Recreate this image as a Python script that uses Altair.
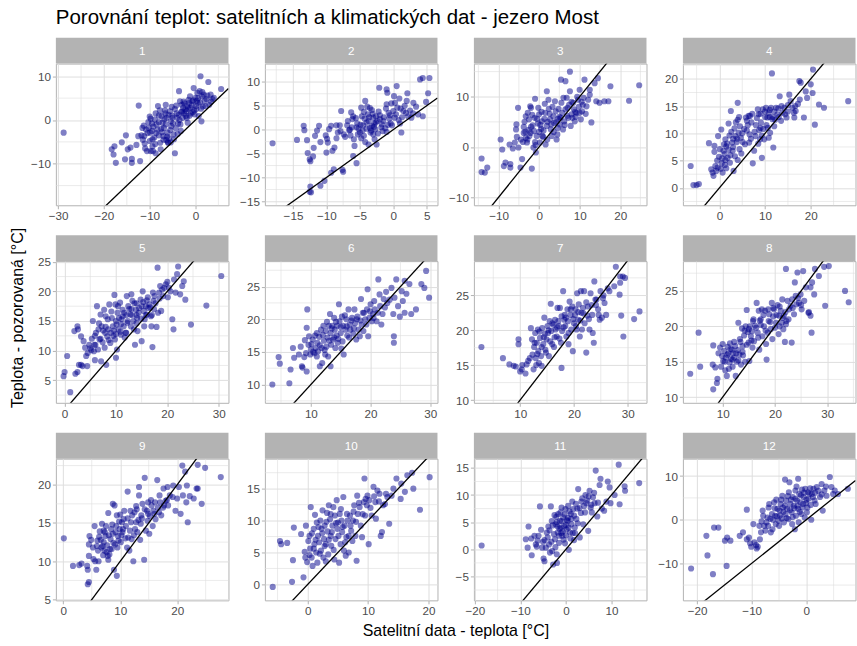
import altair as alt
import pandas as pd

panel_labels = ["1", "2", "3", "4", "5", "6", "7", "8", "9", "10", "11", "12"]

p1 = [(-28.8,-2.9),(-18.3,-6.7),(-17.7,-6.0),(-17.9,-7.9),(-17.4,-9.8),(-16.1,-5.1),(-15.2,-3.5),(-15.4,-9.0),(-14.8,-6.7),(-14.2,-6.3),
      (-13.9,-8.9),(-13.9,-9.8),(-12.9,-5.7),(-12.4,3.3),(-12.1,-9.4),(-12.5,-3.7),(-11.8,-3.5),(-11.6,-1.8),(-11.3,-1.3),(-11.2,-3.7),
      (-11.1,-5.4),(-10.6,-7.1),(-10.3,-0.5),(-10.2,-1.8),(-9.9,-2.9),(-9.8,0.3),(-9.5,-0.8),(-9.4,-4.4),(-9.4,-6.0),(-9.3,-7.1),
      (-8.9,0.1),(-8.7,1.5),(-8.5,-1.0),(-8.3,-2.2),(-8.2,3.2),(-8.0,-3.5),(-7.7,-5.2),(-7.6,-6.7),(-7.4,0.9),(-7.2,-0.6),
      (-7.0,-3.7),(-6.9,-1.8),(-6.7,2.2),(-6.5,3.5),(-6.3,0.5),(-6.1,-2.9),(-6.0,-5.2),(-5.6,2.0),(-5.4,-0.3),(-5.3,-1.4),
      (-5.1,1.0),(-4.8,-3.3),(-4.7,-4.4),(-4.5,-7.6),(-4.1,1.5),(-4.0,0.5),(-3.8,-0.8),(-3.6,6.6),(-3.4,4.3),(-3.2,-2.5),
      (-3.1,1.8),(-2.7,2.8),(-2.5,1.5),(-2.2,2.4),(-1.9,0.5),(-1.8,3.2),(-1.7,-0.6),(-1.4,3.9),(-1.2,5.4),(-1.1,2.8),
      (-0.7,4.3),(-0.6,1.8),(-0.4,7.3),(-0.2,1.3),(0.0,5.1),(0.4,6.2),(0.5,3.9),(0.7,0.9),(0.9,6.6),(1.1,10.0),
      (1.3,-0.3),(1.4,5.4),(1.8,5.8),(2.2,3.2),(2.4,4.8),(2.8,8.7),(3.0,3.5),(3.3,5.8),(3.7,4.8),(4.0,5.1),
      (5.6,7.1),(-6.0,-5.1),(-8.7,-7.6),(-9.8,-7.1),(-5.4,-5.1),(-10.5,-3.0),(-9.0,-4.0),(-7.5,-2.0),(-6.5,-1.0),(-5.0,0.5),
      (-4.5,2.5),(-3.5,0.0),(-2.8,0.5),(-2.0,2.0),(-1.0,1.5),(-0.5,4.5),(0.2,2.5),(-3.0,3.5),(-8.0,1.0),(-9.5,-2.5),
      (-11.0,-6.5),(-7.0,-4.5),(-6.2,-3.8),(-5.8,-4.2),(-2.4,3.8),(-1.5,4.6),(0.3,4.4),(1.0,4.0),(1.6,3.1),
      (-11.5,-4.5),(-10.8,-2.2),(-10.0,-4.8),(-9.2,-1.5),(-8.8,-5.5),(-8.0,-0.5),(-7.8,2.2),(-7.3,-2.8),(-6.8,0.2),(-6.4,-4.6),
      (-5.9,1.2),(-5.5,-2.3),(-5.2,3.0),(-4.9,-0.8),(-4.3,-1.9),(-4.2,3.3),(-3.7,1.2),(-3.3,-1.0),(-2.9,2.0),(-2.6,4.2),
      (-2.1,0.9),(-1.6,2.6),(-1.3,1.0),(-0.8,3.4),(-0.3,2.2),(0.1,3.2),(0.6,5.0),(1.2,2.6),(1.5,6.4),(2.0,4.4),
      (2.6,5.6),(3.4,4.2),(-8.6,-3.0),(-10.0,0.8),(-6.6,1.5),(-3.9,-3.2)]

p2 = [(-18.05,-2.85),(-14.4,-2.15),(-13.4,0.8),(-13.3,-0.1),(-12.9,-2.2),(-12.8,-4.9),(-12.5,-6.2),(-12.4,-6.6),(-12.4,-11.9),(-12.5,-13.0),
      (-12.3,-13.1),(-12.0,-5.6),(-11.9,-3.8),(-11.7,-1.3),(-11.1,0.8),(-10.9,-11.7),(-10.9,-2.6),(-10.1,-1.2),(-9.9,-1.9),(-9.8,-2.7),
      (-10.0,-4.8),(-10.3,-10.7),(-9.3,0.8),(-9.1,-4.4),(-8.8,-3.75),(-9.3,-9.0),(-8.9,-8.3),(-8.5,0.9),(-8.3,-0.6),(-8.0,0.9),
      (-7.8,3.9),(-7.6,-8.4),(-7.5,-8.8),(-7.4,-1.0),(-6.9,0.9),(-6.6,-0.1),(-6.4,-1.2),(-6.1,2.2),(-6.0,2.8),(-5.9,-2.0),
      (-5.8,-3.4),(-6.0,-5.5),(-5.5,-7.0),(-5.4,1.3),(-5.2,0.2),(-5.0,-0.6),(-4.8,4.6),(-4.7,2.8),(-4.5,0.9),(-4.2,6.0),
      (-4.4,-1.3),(-4.2,-2.6),(-3.8,3.2),(-3.7,1.8),(-3.5,0.4),(-3.4,-0.6),(-3.7,-3.1),(-3.2,4.1),(-3.0,2.5),(-2.85,1.3),
      (-2.7,0.1),(-2.6,2.8),(-2.5,-3.1),(-2.1,8.75),(-2.0,2.2),(-1.7,1.1),(-1.6,-0.3),(-1.0,8.4),(-0.9,7.7),(-1.0,5.3),
      (-0.7,3.5),(-0.6,2.3),(-0.4,1.3),(0.1,7.0),(0.25,5.6),(0.5,9.1),(0.0,3.9),(0.4,3.2),(0.9,6.5),(1.0,1.3),
      (1.2,-0.6),(1.1,4.4),(1.5,3.9),(1.9,3.5),(2.2,2.8),(2.0,6.0),(2.1,7.6),(2.7,2.5),(2.95,3.4),(3.4,4.8),
      (3.7,3.2),(4.4,2.8),(4.0,10.5),(4.4,10.8),(5.4,10.8),(5.2,7.6),(4.9,5.8),(-4.0,1.5),(-3.2,0.8),(-2.4,1.8),
      (-5.5,0.5),(-4.8,-1.8),(-3.0,-1.0),(-1.5,1.8),(-2.2,3.8),(-4.4,3.7),(-6.5,0.0),(-7.2,-1.5),(-8.5,-1.8),(-1.2,0.3),
      (0.8,2.0),(-0.2,0.9),(-3.5,4.5),(-2.8,-2.0),(-1.0,-0.5),
      (-6.8,1.8),(-6.2,0.5),(-5.6,2.4),(-5.3,-1.0),(-4.9,1.0),(-4.6,-0.2),(-4.3,2.3),(-4.0,0.2),(-3.9,4.8),(-3.6,2.6),
      (-3.3,-0.2),(-3.1,3.3),(-2.9,0.6),(-2.6,1.5),(-2.3,-0.8),(-2.0,3.0),(-1.8,0.5),(-1.4,2.6),(-1.1,4.4),(-0.8,1.0),
      (-0.5,3.0),(-0.3,5.5),(0.2,2.5),(0.6,4.6),(1.3,2.6),(1.7,5.0),(2.5,4.0),(3.0,5.6),(-7.9,-0.3),(-9.6,0.1),
      (-11.4,-0.2),(-6.3,3.6)]

p3 = [(-14.2,-2.3),(-14.2,-5.0),(-13.4,-5.1),(-12.8,-4.1),(-9.5,1.5),(-9.1,-0.5),(-8.7,-3.8),(-8.3,-3.1),(-7.1,-3.4),(-7.1,-4.1),
      (-7.3,0.5),(-6.0,0.9),(-5.7,3.5),(-5.6,4.5),(-5.2,7.8),(-5.1,-0.1),(-4.6,-4.1),(-4.2,-2.4),(-3.8,2.8),(-3.6,5.0),
      (-3.3,6.1),(-3.3,1.8),(-3.0,0.9),(-2.8,6.8),(-2.6,3.4),(-2.4,2.2),(-2.2,8.1),(-2.0,7.8),(-1.8,-4.3),(-1.6,4.3),
      (-1.4,-0.1),(-1.1,5.8),(-1.0,9.6),(-0.8,-1.1),(-0.6,2.2),(-0.3,4.7),(-0.2,7.8),(0.0,6.5),(0.2,0.9),(0.5,3.6),
      (0.7,5.1),(0.8,2.2),(1.3,5.6),(1.6,0.5),(1.9,4.2),(1.9,11.1),(2.3,9.4),(2.4,7.6),(2.7,5.5),(2.9,3.5),
      (3.1,2.2),(3.5,6.1),(3.7,4.8),(3.9,9.1),(4.1,7.1),(4.3,1.5),(4.6,3.8),(4.7,5.6),(5.1,4.5),(5.4,13.4),
      (5.5,8.8),(5.7,6.8),(5.9,3.5),(6.2,5.1),(6.5,13.1),(6.8,9.8),(7.0,7.8),(7.2,5.8),(7.6,15.0),(7.6,11.1),
      (7.8,4.2),(8.0,6.5),(8.4,8.8),(8.6,7.5),(8.8,5.1),(9.2,6.8),(9.6,9.4),(9.8,8.0),(10.0,11.4),(10.3,5.5),
      (10.6,7.1),(10.8,8.4),(11.2,13.4),(11.7,8.1),(12.1,9.4),(12.5,11.4),(12.5,10.4),(12.9,4.9),(13.7,12.7),(14.1,9.1),
      (14.5,13.7),(14.9,8.8),(16.1,9.1),(17.1,9.1),(17.6,12.1),(22.2,9.2),(24.7,12.3),(0.0,3.0),(1.0,2.0),(-1.0,1.0),
      (2.0,1.5),(3.0,4.5),(5.0,6.0),(6.5,7.5),(8.0,9.0),(9.0,6.0),(-2.0,4.0),(-4.0,1.0),(1.5,6.8),(4.5,2.5),
      (10.0,6.8),(11.0,9.8),
      (-3.8,4.0),(-3.4,3.0),(-2.9,1.5),(-2.5,5.5),(-2.1,2.8),(-1.7,6.4),(-1.3,3.2),(-0.9,0.4),(-0.5,5.6),(0.3,4.4),
      (0.6,7.0),(1.1,3.3),(1.4,8.6),(2.1,5.0),(2.6,6.6),(3.3,8.0),(3.6,3.0),(4.2,5.0),(4.8,7.6),(5.3,5.8),
      (6.0,9.8),(6.3,4.4),(6.9,6.2),(7.4,8.4),(8.2,5.8),(8.9,7.0),(9.4,10.0),(10.5,9.0),(11.5,6.6),(-4.5,1.5),
      (-5.5,2.0),(-6.5,-0.3)]

p4 = [(-6.3,4.0),(-5.7,0.5),(-5.0,0.5),(-4.5,0.7),(-2.3,8.2),(-1.8,3.4),(-1.5,2.8),(-1.3,2.2),(-1.1,7.7),(-1.1,6.6),
      (-0.9,4.0),(-0.7,3.1),(-0.4,3.7),(-0.3,9.5),(-0.1,5.7),(0.1,7.1),(0.4,10.7),(0.6,5.4),(0.7,2.8),(1.1,6.2),
      (1.3,5.1),(1.3,8.9),(1.5,7.6),(1.8,5.5),(2.0,11.8),(2.2,9.6),(2.3,4.6),(2.5,14.1),(2.8,8.3),(2.9,6.8),
      (3.1,3.1),(3.3,10.9),(3.5,9.5),(3.6,12.0),(3.8,8.4),(4.0,5.1),(4.0,15.6),(4.2,10.1),(4.4,7.1),(4.5,11.3),
      (4.7,9.2),(5.1,8.4),(5.8,12.9),(6.2,11.5),(6.4,13.2),(6.5,8.3),(6.9,9.0),(6.7,13.2),(7.3,4.5),(7.6,6.8),
      (7.9,9.5),(8.0,11.5),(8.4,14.4),(8.6,13.5),(8.7,10.6),(8.9,8.9),(9.1,12.0),(9.3,9.6),(9.3,5.5),(9.5,14.4),
      (9.8,8.9),(10.2,14.7),(10.3,11.5),(10.5,12.9),(10.8,13.8),(11.1,10.1),(11.3,14.7),(11.5,21.0),(11.6,12.6),(11.8,7.4),
      (12.0,11.3),(12.4,14.7),(12.7,13.5),(13.2,16.8),(13.5,12.3),(13.8,13.8),(14.2,14.7),(14.7,12.9),(15.3,17.1),(15.6,15.9),
      (16.0,14.7),(16.4,12.9),(16.6,15.0),(16.7,14.1),(17.5,19.6),(17.6,16.2),(17.8,19.3),(18.5,12.9),(18.9,17.7),(20.0,19.0),
      (20.4,17.4),(20.5,21.7),(20.9,11.6),(21.8,15.3),(22.9,14.7),(28.2,15.9),(1.0,8.0),(2.0,7.0),(3.0,9.0),(5.0,10.0),
      (7.0,12.0),(9.0,11.0),(11.0,13.0),(12.0,14.0),(13.0,13.0),(15.0,14.0),(0.5,4.5),(1.5,3.6),(4.0,12.5),(6.0,10.5),
      (10.0,13.0),
      (-0.5,5.0),(0.3,3.5),(0.9,6.8),(1.2,4.2),(1.7,8.1),(2.4,6.0),(2.6,10.3),(3.0,7.5),(3.4,5.8),(3.9,9.0),
      (4.3,13.0),(4.8,6.3),(5.4,10.8),(5.6,8.0),(6.0,12.3),(6.6,9.8),(7.2,13.6),(7.7,10.3),(8.2,12.8),(8.5,8.1),
      (9.0,13.6),(9.6,10.8),(10.0,14.0),(10.6,11.0),(11.0,14.3),(11.7,13.0),(12.2,12.5),(12.9,14.6),(13.6,15.0),(14.4,13.5),
      (15.0,15.2),(16.3,13.8),(17.2,15.4),(19.2,16.5),(10.8,9.2)]

p5 = [(-0.2,5.7),(0.0,6.4),(0.5,9.1),(1.1,3.0),(2.1,6.1),(2.5,6.4),(1.9,13.3),(2.5,14.1),(2.6,13.6),(2.8,7.6),
      (3.2,7.6),(3.5,7.4),(3.2,12.4),(3.7,11.6),(4.2,9.1),(4.4,7.4),(4.5,9.6),(4.8,11.0),(5.0,10.4),(5.2,10.1),
      (5.5,15.0),(5.7,9.9),(5.8,11.0),(5.9,12.5),(5.9,8.4),(6.1,13.0),(6.3,17.5),(6.5,10.2),(6.6,13.6),(6.8,11.9),
      (7.0,16.1),(7.1,8.2),(7.2,14.1),(7.4,11.4),(7.7,16.9),(7.9,13.0),(8.1,7.6),(8.3,12.4),(8.4,15.3),(8.5,13.6),
      (8.7,17.8),(8.9,11.3),(9.2,15.5),(9.4,14.1),(9.5,12.5),(9.7,19.4),(9.8,11.9),(10.0,8.8),(10.2,10.2),(10.3,16.4),
      (10.5,13.6),(10.6,15.5),(10.8,18.1),(10.97,12.7),(11.1,15.3),(11.3,16.9),(11.5,14.1),(11.6,16.4),(11.9,13.0),(12.1,19.2),
      (12.3,15.0),(12.4,17.5),(12.8,16.1),(12.9,14.1),(13.0,19.5),(13.2,18.4),(13.4,15.0),(13.5,13.6),(13.7,11.0),(13.9,16.9),
      (14.1,15.5),(14.2,13.3),(14.5,17.2),(14.8,18.6),(15.0,11.6),(15.2,20.0),(15.4,16.7),(15.5,14.1),(15.6,15.3),(15.8,17.5),
      (16.0,16.1),(16.3,17.2),(16.5,17.8),(16.8,15.8),(16.9,14.1),(17.1,10.6),(17.3,18.4),(17.4,17.0),(17.5,19.2),(17.9,14.0),
      (18.1,24.0),(18.2,16.4),(18.4,19.8),(18.6,20.9),(18.8,16.7),(19.0,20.3),(19.4,20.6),(19.7,21.2),(20.0,21.6),(20.1,19.0),
      (20.6,20.0),(20.97,15.3),(21.2,13.6),(21.3,22.0),(21.6,19.8),(21.9,22.9),(22.1,24.2),(22.5,19.5),(22.9,20.9),(23.2,21.7),
      (23.5,18.6),(24.6,14.4),(27.6,17.6),(30.5,22.6),(8.0,14.0),(9.0,13.0),(10.0,15.0),(11.0,14.5),(12.0,16.0),(13.0,17.0),
      (14.0,16.0),(15.0,17.5),(6.0,11.0),(7.0,12.0),(12.0,13.0),(14.0,18.0),(16.0,18.5),(17.0,16.0),(10.0,12.8),
      (6.7,14.6),(7.5,13.4),(8.0,15.8),(8.6,11.8),(9.1,16.6),(9.6,13.4),(10.1,14.4),(10.4,17.5),(10.9,13.2),(11.3,15.8),
      (11.7,12.2),(12.2,14.7),(12.6,17.0),(13.1,16.0),(13.6,18.0),(14.0,14.6),(14.4,16.4),(14.9,15.4),(15.3,18.2),(15.8,16.0),
      (16.2,19.0),(16.7,17.3),(17.2,19.8),(17.7,18.0),(18.5,18.8),(19.2,19.2),(20.3,20.6),(5.3,12.0),(4.0,10.5),(9.9,17.8),
      (7.8,10.5)]

p6 = [(3.55,10.0),(4.6,14.2),(4.8,13.2),(6.4,10.2),(6.6,12.3),(7.0,15.6),(7.2,14.1),(8.3,15.8),(8.5,12.8),(8.6,12.6),
      (8.9,14.2),(9.2,14.8),(9.3,18.7),(9.4,21.5),(9.3,12.0),(9.6,16.1),(9.7,17.4),(9.9,14.6),(10.0,15.4),(10.3,16.9),
      (10.4,15.0),(10.7,17.5),(10.8,15.6),(11.0,14.3),(11.1,16.4),(11.2,15.1),(11.4,17.3),(11.5,12.8),(11.7,18.4),(11.8,15.6),
      (11.9,13.3),(12.1,19.0),(12.2,16.7),(12.3,15.3),(12.5,18.2),(12.6,15.8),(12.8,17.2),(12.9,14.3),(13.0,19.0),(13.2,20.8),
      (13.3,17.9),(13.4,16.1),(13.3,12.8),(13.6,19.0),(13.7,16.9),(13.9,20.2),(14.0,18.4),(14.1,15.6),(14.3,17.5),(14.4,19.0),
      (14.5,16.4),(14.7,22.3),(14.8,19.7),(15.0,17.9),(15.1,15.5),(15.2,20.4),(15.4,19.0),(15.5,14.6),(15.8,18.4),(15.95,20.0),
      (16.1,17.5),(16.3,21.5),(16.5,19.2),(16.6,18.4),(16.9,20.2),(17.1,17.8),(17.3,21.5),(17.4,19.4),(17.6,16.9),(17.8,20.4),
      (18.0,18.4),(18.2,17.4),(18.4,23.1),(18.5,19.2),(18.7,21.0),(18.8,18.2),(19.1,20.0),(19.4,21.5),(19.5,24.6),(19.6,17.4),
      (19.8,20.2),(20.0,22.3),(20.2,19.7),(20.4,20.8),(20.6,22.8),(20.7,21.5),(21.0,19.7),(21.3,26.1),(21.5,23.8),(21.6,22.0),
      (21.8,19.2),(22.0,20.8),(22.2,23.1),(22.6,24.2),(22.8,22.5),(23.5,24.8),(23.8,20.8),(23.9,17.4),(23.9,16.4),(24.0,23.3),
      (24.3,26.1),(24.6,22.0),(24.9,20.4),(25.2,24.3),(25.4,22.8),(25.7,21.0),(25.7,25.9),(26.0,23.9),(26.5,25.4),(26.8,20.8),
      (27.6,21.5),(28.5,25.4),(29.0,24.8),(29.3,27.4),(29.8,23.3),
      (10.1,16.2),(10.6,14.8),(11.0,17.9),(11.5,16.0),(12.0,17.6),(12.4,14.6),(12.7,19.6),(13.1,16.7),(13.5,18.6),(13.9,17.2),
      (14.2,19.6),(14.6,17.0),(15.0,18.8),(15.3,16.6),(15.7,20.6),(16.0,18.9),(16.4,17.2),(16.8,19.8),(17.2,18.6),(17.7,20.0),
      (18.3,19.8),(18.9,21.0),(19.3,19.2),(19.9,21.2),(20.5,20.2),(21.2,21.0),(22.4,21.8),(23.2,23.0),(9.0,16.8),(8.0,14.6)]

p7 = [(2.8,17.6),(6.8,16.0),(8.0,15.1),(8.8,14.9),(9.2,14.8),(9.7,18.7),(9.7,18.0),(10.0,14.1),(10.3,14.4),(10.4,15.0),
      (11.0,13.8),(11.2,15.1),(11.5,15.6),(12.0,20.3),(12.2,18.7),(12.3,16.5),(12.5,14.4),(12.6,17.6),(12.8,19.6),(12.9,16.0),
      (13.1,18.2),(13.3,20.1),(13.4,17.0),(13.5,15.3),(13.7,18.9),(13.9,16.3),(14.0,14.9),(14.1,20.3),(14.3,18.0),(14.5,21.8),
      (14.6,19.5),(14.7,17.2),(14.9,18.7),(15.1,20.6),(15.2,19.6),(15.35,16.3),(15.5,21.3),(15.7,23.8),(15.8,19.9),(15.97,18.0),
      (16.2,20.8),(16.3,17.6),(16.5,21.5),(16.6,20.1),(16.8,19.1),(16.95,23.2),(17.1,21.3),(17.2,20.6),(17.4,23.2),(17.6,18.2),
      (17.7,14.6),(18.0,25.6),(17.8,19.9),(18.2,21.5),(18.3,22.2),(18.4,20.6),(18.6,19.1),(18.8,23.0),(18.9,21.3),(19.0,18.0),
      (19.2,24.1),(19.4,22.2),(19.5,20.1),(19.7,23.4),(19.8,17.0),(20.0,21.0),(20.2,22.2),(20.3,23.0),(20.5,20.1),(20.6,25.3),
      (20.8,21.5),(20.9,23.7),(21.1,19.1),(21.3,25.6),(21.4,22.5),(21.5,20.1),(21.7,23.2),(21.9,25.6),(22.0,21.0),(22.3,16.8),
      (22.5,22.1),(22.6,23.4),(22.9,20.1),(23.1,25.3),(23.4,22.2),(23.5,19.6),(23.7,18.2),(23.8,27.0),(24.0,24.4),(24.2,24.4),
      (24.5,23.0),(24.8,21.5),(24.95,25.6),(25.2,21.8),(25.4,24.6),(25.7,23.9),(26.0,22.2),(26.3,26.0),(26.6,25.6),(27.5,26.3),
      (27.8,29.1),(28.5,25.1),(28.6,26.8),(28.6,27.7),(29.1,27.7),(29.5,27.5),(28.8,22.1),(29.2,19.1),(31.2,21.6),(32.2,22.7),
      (12.7,18.2),(13.2,16.6),(13.6,19.8),(14.0,17.6),(14.4,19.0),(14.8,16.8),(15.3,20.0),(15.6,18.4),(16.0,21.0),(16.4,19.0),
      (16.9,20.4),(17.3,18.8),(17.7,22.0),(18.1,20.4),(18.5,21.8),(19.0,19.6),(19.4,23.0),(19.9,21.6),(20.4,20.6),(20.8,22.6),
      (21.2,21.4),(21.8,22.4),(22.3,24.0),(22.8,21.6),(23.3,23.6),(24.1,23.6),(24.6,22.2),(25.5,25.0),(11.8,16.0),(13.0,15.0)]

p8 = [(3.8,13.3),(5.4,19.1),(5.7,14.3),(8.2,17.3),(8.1,14.6),(8.2,11.1),(8.6,14.2),(8.9,12.0),(9.0,12.6),(9.2,16.2),
      (9.5,17.0),(9.7,14.3),(9.9,15.8),(10.0,17.5),(10.1,15.1),(10.3,16.5),(10.5,13.8),(10.6,15.6),(10.8,13.0),(10.95,17.1),
      (11.1,16.2),(11.3,14.9),(11.4,17.6),(11.6,15.4),(11.8,16.7),(11.9,14.3),(12.0,16.2),(12.2,15.6),(12.4,17.2),(12.5,13.0),
      (12.7,15.0),(12.9,16.65),(13.0,20.5),(13.2,16.0),(13.3,18.2),(13.5,14.6),(13.7,19.7),(13.8,17.2),(13.9,15.9),(14.1,18.7),
      (14.3,15.0),(14.4,20.0),(14.6,22.3),(14.8,19.2),(14.95,17.7),(15.1,15.1),(15.2,20.0),(15.4,18.6),(15.6,19.3),(15.7,17.0),
      (15.8,20.75),(16.0,17.9),(16.2,20.1),(16.5,23.3),(16.7,19.1),(16.9,22.2),(17.0,16.7),(17.1,20.8),(17.3,21.0),(17.5,22.4),
      (17.6,18.6),(17.9,20.0),(18.1,22.2),(18.3,17.5),(18.4,15.3),(18.6,19.1),(18.8,20.75),(18.9,21.7),(19.2,19.6),(19.4,23.3),
      (19.5,18.2),(19.65,21.4),(19.8,22.4),(20.0,19.8),(20.2,20.5),(20.5,23.0),(20.7,18.9),(20.8,21.5),(20.9,20.0),(21.1,22.2),
      (21.3,20.5),(21.4,23.8),(21.6,19.6),(21.7,21.5),(21.9,17.8),(22.1,20.3),(22.2,20.75),(22.1,28.1),(22.4,23.6),(22.7,22.4),
      (23.0,22.9),(23.2,17.7),(23.3,23.8),(23.65,21.7),(23.8,26.2),(23.97,24.3),(24.1,23.1),(24.3,27.6),(24.6,23.3),(24.9,24.5),
      (25.1,22.4),(25.4,27.8),(25.6,23.6),(25.9,25.5),(26.4,21.9),(26.5,22.0),(26.8,21.5),(26.8,25.5),(27.1,26.2),(27.5,24.5),
      (27.0,19.1),(27.65,28.1),(28.4,27.1),(29.4,28.4),(30.3,28.5),(29.6,22.9),(33.4,25.0),(34.1,23.4),
      (10.4,15.0),(10.9,16.0),(11.2,14.0),(11.5,16.8),(11.9,15.3),(12.2,17.8),(12.6,16.2),(13.0,15.2),(13.4,17.8),(13.8,16.4),
      (14.2,19.4),(14.6,17.4),(15.0,19.6),(15.5,18.0),(15.9,21.0),(16.4,19.8),(16.8,18.4),(17.3,20.2),(17.8,21.6),(18.2,19.4),
      (18.7,22.4),(19.1,20.6),(19.7,22.6),(20.3,21.6),(20.9,22.8),(21.5,21.2),(22.0,22.0),(22.6,21.0),(23.4,22.6),(24.4,24.0),
      (25.0,23.0)]

p9 = [(0.1,13.0),(1.7,9.4),(2.8,9.5),(3.2,9.7),(4.2,9.4),(4.3,8.9),(4.3,7.0),(4.5,7.3),(4.5,12.2),(4.5,10.7),
      (4.6,13.3),(4.9,12.8),(5.2,11.8),(5.3,10.3),(5.5,14.6),(5.6,10.0),(5.8,8.9),(6.0,12.7),(6.1,11.4),(6.2,10.0),
      (6.4,13.9),(6.6,12.8),(6.7,11.8),(6.8,14.9),(7.0,10.8),(7.1,14.0),(7.1,12.5),(7.2,11.4),(7.4,13.3),(7.5,14.6),
      (7.7,12.1),(7.8,10.7),(7.9,16.3),(8.1,10.9),(8.3,12.9),(8.4,14.2),(8.5,11.6),(8.7,13.6),(8.7,17.5),(8.9,8.9),
      (9.0,17.3),(9.1,12.2),(9.3,14.6),(9.4,8.1),(9.4,16.0),(9.6,13.3),(9.7,12.7),(9.9,14.2),(10.0,16.1),(10.1,12.5),
      (10.3,15.1),(10.4,13.8),(10.6,15.5),(10.7,16.6),(11.0,14.6),(11.2,11.8),(11.3,19.1),(11.4,13.1),(11.6,11.4),(11.8,16.6),
      (11.9,15.1),(12.0,12.9),(12.3,10.0),(12.5,16.4),(12.6,14.2),(12.8,15.1),(12.9,16.8),(13.0,13.8),(13.3,18.6),(13.3,19.7),
      (13.5,12.8),(13.6,14.9),(13.7,16.0),(13.9,17.5),(14.2,10.2),(14.3,20.9),(14.5,14.0),(14.7,16.6),(14.8,15.3),(14.9,17.7),
      (15.1,13.6),(15.2,15.9),(15.5,17.3),(15.7,14.6),(15.8,16.6),(16.1,17.7),(16.2,15.5),(16.5,20.6),(16.6,17.0),(16.8,16.4),
      (17.0,17.7),(17.2,16.0),(17.6,19.5),(17.7,17.3),(17.97,17.9),(18.3,19.7),(18.4,17.3),(18.7,18.6),(19.3,19.9),(19.7,16.6),
      (20.0,18.2),(20.3,19.7),(20.6,16.2),(20.9,22.5),(21.0,18.6),(21.4,21.7),(21.6,17.7),(21.7,19.9),(21.85,15.1),(22.2,18.5),
      (22.9,18.2),(23.4,19.5),(23.6,19.5),(23.6,22.6),(24.3,17.5),(24.9,22.2),(27.65,21.0),
      (5.9,12.0),(6.3,13.2),(6.9,12.0),(7.3,13.8),(7.6,11.2),(8.0,13.4),(8.2,11.6),(8.6,14.8),(8.8,12.4),(9.2,13.8),
      (9.5,11.8),(9.8,15.2),(10.2,13.4),(10.5,14.2),(10.9,13.0),(11.3,15.6),(11.7,14.0),(12.1,16.0),(12.4,13.4),(12.8,17.2),
      (13.2,15.4),(13.8,15.6),(14.3,16.8),(14.9,16.2),(15.4,18.0),(16.0,16.2),(16.9,18.6),(17.5,17.0),(18.2,18.0),(19.2,18.4),
      (7.9,10.2)]

p10 = [(-5.8,-0.4),(-4.6,6.8),(-4.4,6.3),(-3.4,6.5),(-2.6,0.4),(-2.45,3.8),(-2.3,8.9),(-1.1,7.9),(-0.7,1.1),(-0.5,5.1),
       (-0.4,4.2),(-0.3,9.2),(-0.1,3.5),(0.1,6.8),(0.3,7.6),(0.4,5.6),(0.5,12.1),(0.65,4.2),(0.8,2.9),(1.0,8.7),
       (1.1,6.3),(1.2,10.9),(1.4,5.0),(1.5,9.7),(1.6,3.4),(1.7,7.6),(1.9,6.6),(2.1,10.0),(2.2,5.3),(2.3,8.7),
       (2.45,11.6),(2.6,4.2),(2.7,7.1),(2.8,9.2),(3.0,6.3),(3.2,11.2),(3.3,8.3),(3.4,4.7),(3.5,12.4),(3.7,10.2),
       (3.8,7.6),(3.9,6.05),(4.1,9.2),(4.25,12.1),(4.4,3.9),(4.5,10.8),(4.6,7.1),(4.8,13.2),(4.9,8.7),(5.0,9.7),
       (5.2,3.4),(5.3,11.05),(5.45,6.3),(5.6,10.0),(5.7,8.2),(5.9,13.7),(6.0,5.3),(6.1,9.2),(6.3,4.5),(6.4,7.4),
       (6.5,11.05),(6.8,7.6),(7.0,10.8),(7.1,9.2),(7.4,6.8),(7.5,10.0),(7.7,12.4),(7.9,7.6),(8.1,3.7),(8.2,13.9),
       (8.3,11.05),(8.6,12.1),(8.8,9.2),(9.0,7.4),(9.3,12.9),(9.4,16.6),(9.5,10.8),(9.8,12.4),(9.9,13.9),(10.1,6.3),
       (10.2,13.2),(10.6,10.8),(10.9,15.3),(11.2,12.9),(11.3,10.3),(11.55,14.7),(11.9,14.2),(12.1,7.6),(12.3,8.2),(12.5,12.4),
       (12.97,14.2),(13.2,13.7),(13.5,9.5),(13.9,13.9),(14.2,15.0),(14.7,16.6),(15.4,13.4),(15.5,15.8),(16.1,14.5),(16.5,17.1),
       (17.3,17.5),(17.5,15.0),(18.6,11.7),(20.2,16.8),
       (0.3,4.6),(0.7,8.0),(1.0,5.6),(1.3,7.0),(1.8,9.0),(2.0,4.8),(2.4,8.0),(2.8,6.0),(3.1,9.8),(3.5,7.0),
       (3.8,11.0),(4.0,8.2),(4.3,5.4),(4.7,9.6),(5.1,7.6),(5.5,11.8),(5.8,9.0),(6.2,6.6),(6.6,10.0),(7.2,8.4),
       (7.6,11.4),(8.0,9.8),(8.5,12.8),(9.1,11.0),(9.6,13.4),(10.4,12.0),(11.0,13.8),(11.8,13.0),(12.8,12.6),(3.0,3.6),
       (6.8,5.0)]

p11 = [(-18.5,0.7),(-8.8,1.85),(-8.2,4.2),(-8.4,0.3),(-7.6,2.0),(-7.5,-1.1),(-6.9,2.5),(-6.6,0.9),(-6.4,0.5),(-6.0,2.5),
       (-5.7,7.9),(-5.45,3.6),(-5.2,0.3),(-4.9,-1.7),(-4.7,-2.2),(-4.7,1.7),(-4.4,0.3),(-4.2,3.1),(-3.85,4.2),(-3.7,0.9),
       (-3.5,-0.6),(-3.3,7.9),(-3.1,5.2),(-3.0,-0.3),(-2.8,-2.8),(-2.5,6.3),(-2.4,1.85),(-2.25,4.6),(-2.0,-0.9),(-1.96,-2.5),
       (-1.8,3.1),(-1.7,6.5),(-1.5,1.2),(-1.3,5.2),(-1.1,4.0),(-0.95,7.7),(-0.8,2.5),(-0.6,5.9),(-0.4,4.3),(-0.2,1.1),
       (-0.1,7.4),(0.15,3.7),(0.4,5.2),(0.5,8.0),(0.65,-0.1),(0.9,3.1),(1.1,6.5),(1.2,4.6),(1.4,8.8),(1.6,7.4),
       (1.8,1.7),(1.96,4.0),(2.3,5.6),(2.5,7.5),(2.7,11.1),(3.05,2.2),(3.3,6.7),(3.4,8.8),(3.8,4.6),(4.0,8.0),
       (4.3,10.0),(4.5,8.5),(4.9,3.4),(5.0,9.75),(5.2,10.8),(5.45,7.7),(5.7,6.8),(5.95,9.6),(6.3,8.5),(6.55,14.5),
       (6.9,6.05),(7.05,8.6),(7.4,11.85),(7.6,13.0),(7.9,7.5),(8.4,7.1),(8.9,8.8),(9.2,12.5),(9.6,11.4),(9.8,8.5),
       (10.7,10.0),(11.6,15.6),(11.8,8.3),(12.9,11.6),(13.0,10.8),(16.1,12.2),(-1.0,3.0),(0.0,4.5),(-2.0,5.0),(1.0,2.0),
       (-1.5,2.5),(0.5,5.8),(-0.5,1.8),(2.0,3.0),
       (-4.0,2.2),(-3.6,3.5),(-3.2,1.4),(-2.9,4.4),(-2.6,2.8),(-2.3,0.4),(-2.1,6.0),(-1.8,4.2),(-1.4,3.8),(-1.2,6.8),
       (-0.9,5.2),(-0.7,3.3),(-0.3,6.4),(0.0,2.6),(0.2,5.4),(0.6,4.0),(0.8,7.0),(1.2,5.6),(1.5,3.0),(1.8,6.2),
       (2.2,8.4),(2.6,4.8),(3.0,7.6),(3.6,9.4),(4.2,6.8),(4.7,9.0),(5.6,8.2),(6.2,10.4),(-5.0,1.4),(-6.2,1.6)]

p12 = [(-21.1,-11.2),(-18.3,-3.7),(-18.1,-8.2),(-17.1,-12.5),(-16.9,-1.8),(-16.1,-1.8),(-14.9,-4.8),(-14.5,-4.1),(-13.9,-4.8),(-14.6,-10.6),
       (-12.2,-3.7),(-11.6,-2.9),(-10.9,2.3),(-10.9,-4.5),(-10.5,-4.1),(-10.3,-5.4),(-10.1,-6.2),(-9.7,-1.0),(-9.5,-5.2),(-9.2,-5.8),
       (-9.1,-6.6),(-8.9,-6.2),(-8.6,-1.4),(-8.5,-4.5),(-8.3,-2.9),(-8.0,2.1),(-7.9,0.9),(-7.7,-1.4),(-7.5,-2.5),(-7.3,-0.6),
       (-7.1,0.5),(-6.9,2.8),(-6.8,3.6),(-6.5,-2.9),(-6.3,1.3),(-6.2,-2.2),(-6.1,0.0),(-5.9,4.0),(-5.7,0.9),(-5.6,-1.0),
       (-5.5,4.6),(-5.3,2.5),(-5.1,-0.2),(-4.98,-1.4),(-4.9,2.1),(-4.7,3.6),(-4.5,0.3),(-4.4,5.5),(-4.3,2.8),(-3.9,9.2),
       (-4.1,-0.6),(-3.8,1.3),(-3.7,4.4),(-3.5,2.5),(-3.3,0.15),(-3.2,6.3),(-3.1,8.6),(-2.9,3.6),(-2.7,1.7),(-2.6,-1.0),
       (-2.5,5.2),(-2.3,3.2),(-2.1,-2.2),(-2.0,6.7),(-1.9,0.9),(-1.7,4.4),(-1.5,9.4),(-1.5,2.5),(-1.4,-0.6),(-1.3,5.9),
       (-1.1,4.0),(-0.9,1.3),(-0.8,6.9),(-0.7,2.8),(-0.5,5.2),(-0.3,0.5),(-0.2,7.1),(-0.06,3.8),(0.1,1.7),(0.3,6.3),
       (0.4,4.8),(0.7,7.2),(0.9,0.0),(1.0,5.9),(1.3,7.1),(1.5,4.4),(1.7,3.6),(1.9,7.5),(2.5,5.2),(2.8,8.2),
       (3.0,2.1),(3.3,6.7),(3.7,5.5),(4.3,9.8),(4.6,7.5),(4.9,5.9),(5.2,6.7),(5.8,5.9),(7.6,7.1),
       (-5.8,2.6),(-5.4,0.8),(-4.8,1.0),(-4.6,4.6),(-4.2,1.8),(-3.9,3.2),(-3.6,0.4),(-3.4,5.4),(-3.0,2.2),(-2.8,4.6),
       (-2.5,0.6),(-2.2,2.6),(-2.0,4.8),(-1.8,7.6),(-1.6,3.2),(-1.2,1.8),(-1.0,5.6),(-0.6,3.6),(-0.4,6.2),(0.0,4.6),
       (0.2,2.8),(0.6,6.0),(0.8,3.4),(1.2,5.2),(1.6,6.2),(2.2,6.6),(2.8,5.8),(3.6,7.6),(-7.0,-1.4),(-8.2,-0.4),
       (-6.6,0.2)]

points_by_panel = [p1, p2, p3, p4, p5, p6, p7, p8, p9, p10, p11, p12]

x_domains = [[-30.5, 7.2], [-19.2, 6.6], [-16.1, 26.5], [-8.0, 29.8], [-1.7, 31.9], [2.3, 31.2],
             [1.4, 33.5], [2.4, 35.4], [-1.3, 29.0], [-7.1, 21.5], [-20.2, 17.7], [-22.6, 9.0]]
y_domains = [[-19.5, 12.9], [-15.8, 13.8], [-11.6, 16.6], [-3.2, 22.8], [1.2, 25.1], [7.2, 28.9],
             [9.6, 29.9], [9.2, 29.2], [4.9, 23.4], [-2.5, 19.7], [-9.4, 16.7], [-18.5, 14.0]]
x_ticks = [[-30, -20, -10, 0], [-15, -10, -5, 0, 5], [-10, 0, 10, 20], [0, 10, 20], [0, 10, 20, 30], [10, 20, 30],
           [10, 20, 30], [10, 20, 30], [0, 10, 20], [0, 10, 20], [-20, -10, 0, 10], [-20, -10, 0]]
y_ticks = [[-10, 0, 10], [-15, -10, -5, 0, 5, 10], [-10, 0, 10], [0, 5, 10, 15, 20], [5, 10, 15, 20, 25], [10, 15, 20, 25],
           [10, 15, 20, 25], [10, 15, 20, 25], [5, 10, 15, 20], [0, 5, 10, 15], [-5, 0, 5, 10, 15], [-10, 0, 10]]

title_text = "Porovnání teplot: satelitních a klimatických dat - jezero Most"
x_title = "Satelitní data - teplota [°C]"
y_title = "Teplota - pozorovaná [°C]"

W, H, STRIP = 173, 142, 26
FONT = "Liberation Sans"
POINT = "#00008b"
GRID = "#dedede"
BORDER = "#b3b3b3"


def minor(ticks, dom):
    step = ticks[1] - ticks[0]
    vals = [ticks[0] - step / 2] + [t + step / 2 for t in ticks]
    return [v for v in vals if dom[0] < v < dom[1]]


def make_panel(i):
    xd, yd = x_domains[i], y_domains[i]
    xsc = alt.Scale(domain=xd, nice=False, zero=False)
    ysc = alt.Scale(domain=yd, nice=False, zero=False)
    xax = alt.Axis(values=x_ticks[i], title=None, grid=True, labelFlush=False)
    yax = alt.Axis(values=y_ticks[i], title=None, grid=True, labelFlush=False)
    X = alt.X("sat:Q", scale=xsc, axis=xax)
    Y = alt.Y("obs:Q", scale=ysc, axis=yax)
    pts = pd.DataFrame(points_by_panel[i], columns=["sat", "obs"])
    mx = pd.DataFrame({"sat": minor(x_ticks[i], xd)})
    my = pd.DataFrame({"obs": minor(y_ticks[i], yd)})
    ident = pd.DataFrame({"sat": list(xd), "obs": list(xd)})
    lab = pd.DataFrame({"label": [panel_labels[i]]})
    layers = [
        alt.Chart(mx).mark_rule(color=GRID, strokeWidth=0.6).encode(x=X),
        alt.Chart(my).mark_rule(color=GRID, strokeWidth=0.6).encode(y=Y),
        alt.Chart(pts).mark_circle(color=POINT, opacity=0.5, size=38, clip=True).encode(x=X, y=Y),
        alt.Chart(ident).mark_line(color="black", strokeWidth=1.3, clip=True).encode(x=X, y=Y),
        alt.Chart(lab).mark_rect(color=BORDER).encode(
            x=alt.value(0), x2=alt.value(W), y=alt.value(-STRIP), y2=alt.value(0)),
        alt.Chart(lab).mark_text(color="white", fontSize=11.7, font=FONT, baseline="middle").encode(
            text="label:N", x=alt.value(W / 2), y=alt.value(-STRIP / 2)),
    ]
    if i == 4:
        layers.append(alt.Chart(lab).mark_text(color="black", fontSize=16, font=FONT, angle=270,
                                               baseline="middle").encode(
            text=alt.value(y_title), x=alt.value(-38), y=alt.value(57)))
    if i == 9:
        layers.append(alt.Chart(lab).mark_text(color="black", fontSize=16, font=FONT,
                                               baseline="middle").encode(
            text=alt.value(x_title), x=alt.value(191.5), y=alt.value(H + 31)))
    return alt.layer(*layers).properties(width=W, height=H)


chart = alt.concat(
    *[make_panel(i) for i in range(12)],
    columns=4,
    spacing={"row": 56, "column": 36.5},
    bounds="flush",
).properties(
    title=alt.TitleParams(title_text, anchor="start", frame="group", font=FONT, fontSize=20.5,
                          fontWeight="normal", color="black", offset=9),
    padding={"left": 9, "top": 7, "right": 0, "bottom": 0},
).configure_view(
    stroke=BORDER, strokeWidth=1
).configure_axis(
    labelFont=FONT, labelFontSize=11.7, labelColor="#4d4d4d", tickColor=BORDER, tickSize=3.5,
    domain=False, gridColor=GRID, gridWidth=1, labelPadding=2
)

chart.save("out.html", embed_options={"renderer": "svg", "actions": False})
